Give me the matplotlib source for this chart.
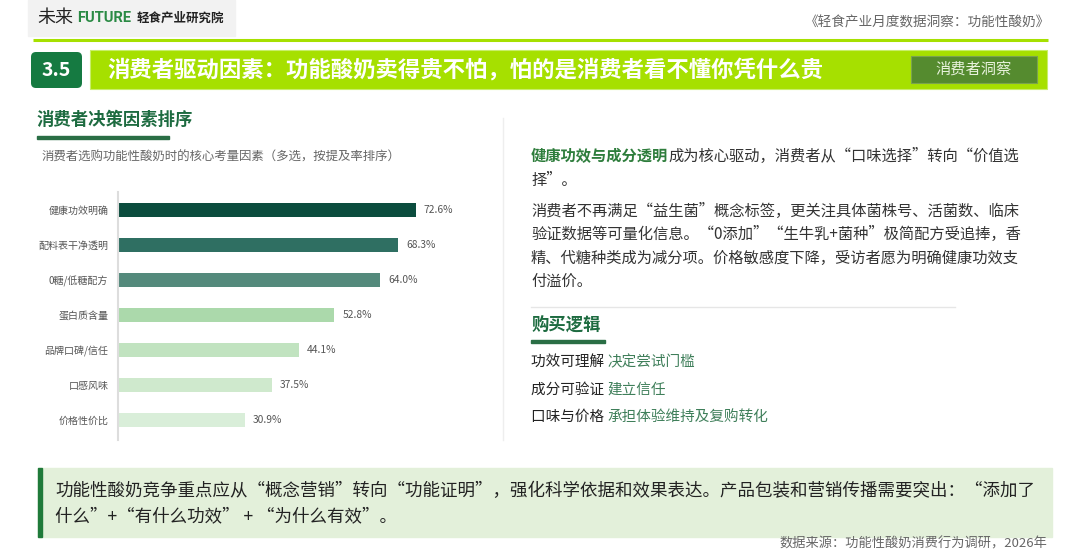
import matplotlib
matplotlib.use("Agg")
import matplotlib.pyplot as plt
from matplotlib.patches import Rectangle, FancyBboxPatch

plt.rcParams['font.family'] = ['Noto Sans CJK SC', 'DejaVu Sans']

categories = ["健康功效明确", "配料表干净透明", "0糖/低糖配方", "蛋白质含量", "品牌口碑/信任", "口感风味", "价格性价比"]
values = [72.6, 68.3, 64.0, 52.8, 44.1, 37.5, 30.9]
bar_colors = ["#0b4d3e", "#2f6f62", "#548a7c", "#abd9ab", "#c1e3c0", "#cfe9cd", "#d9eed9"]

W, H = 1080, 555
fig = plt.figure(figsize=(W / 100, H / 100), dpi=100)
fig.patch.set_facecolor("white")
ax0 = fig.add_axes([0, 0, 1, 1])
ax0.set_xlim(0, W)
ax0.set_ylim(H, 0)
ax0.axis("off")

renderer = fig.canvas.get_renderer()

def text_width(t):
    bb = t.get_window_extent(renderer=renderer)
    return bb.width

def seq_text(x, y, parts, **kw):
    for s, c, extra in parts:
        t = ax0.text(x, y, s, color=c, va="center", ha="left", **kw, **extra)
        x += text_width(t)
    return x

# ---- header logo
ax0.add_patch(Rectangle((28, 0), 207, 36, color="#f2f2f2", zorder=0))
x = seq_text(37, 18, [("未来", "#222222", dict(fontsize=13))])
x = seq_text(x + 4, 18, [("FUTURE", "#2a8a44", dict(fontsize=10.5, fontweight="bold", family=["Roboto", "DejaVu Sans"]))])
seq_text(x + 6, 18, [("轻食产业研究院", "#222222", dict(fontsize=9, fontweight="bold"))])
ax0.text(1050, 22, "《轻食产业月度数据洞察：功能性酸奶》", fontsize=9.8, color="#666666",
         ha="right", va="center", style="italic")
ax0.plot([33, 1048], [39.5, 39.5], color="#a6e000", lw=2.2, solid_capstyle="butt")

# ---- section banner
ax0.add_patch(FancyBboxPatch((31, 52), 51, 36, boxstyle="round,pad=0,rounding_size=5",
                             fc="#157a41", ec="none"))
ax0.text(56.5, 70.5, "3.5", fontsize=14, color="white", fontweight="bold", ha="center", va="center")
ax0.add_patch(Rectangle((90, 50), 957, 39, fc="#a6e000", ec="#c8ee6a", lw=0.8))
ax0.text(107, 70, "消费者驱动因素：功能酸奶卖得贵不怕，怕的是消费者看不懂你凭什么贵",
         fontsize=16.1, color="white", fontweight="bold", ha="left", va="center")
ax0.add_patch(Rectangle((911, 56), 126, 27, fc="#558b2f", ec="#7aa34f", lw=0.8))
ax0.text(974, 69.5, "消费者洞察", fontsize=11, color="#e8f2dc", ha="center", va="center")

# ---- left header
ax0.text(37, 120, "消费者决策因素排序", fontsize=12.5, color="#1d6b40", fontweight="bold",
         ha="left", va="center")
ax0.add_patch(Rectangle((37, 135.5), 132, 3, color="#2a6e45"))
ax0.text(42, 157, "消费者选购功能性酸奶时的核心考量因素（多选，按提及率排序）", fontsize=8.95,
         color="#666666", ha="left", va="center")

# vertical separator
ax0.plot([503, 503], [118, 440], color="#eeeeee", lw=1)

# ---- bar chart
left_px, right_px, top_px, bot_px = 118, 528, 192, 440
ax = fig.add_axes([left_px / W, 1 - bot_px / H, (right_px - left_px) / W, (bot_px - top_px) / H])
ax.set_xlim(0, 100)
n = len(values)
ax.set_ylim(6.57, -0.514)
ys = list(range(n))
ax.barh(ys, values, height=0.4, color=bar_colors, left=0, zorder=2)
for y, v in zip(ys, values):
    ax.text(v + 2, y, f"{v:.1f}%", fontsize=7.4, color="#555555", va="center", ha="left")
ax.set_yticks(ys)
ax.set_yticklabels(categories, fontsize=7.2, color="#555555")
ax.tick_params(axis="y", length=0, pad=7)
ax.set_xticks([])
for s in ["top", "right", "bottom"]:
    ax.spines[s].set_visible(False)
ax.spines["left"].set_color("#dddddd")
ax.spines["left"].set_linewidth(1.5)
ax.patch.set_alpha(0)

# ---- right text
body = "#333333"
green = "#2e7d3c"
fs = 11
seq_text(531, 156, [("健康功效与成分透明", green, dict(fontsize=fs, fontweight="bold")),
                    ("成为核心驱动，消费者从“口味选择”转向“价值选", body, dict(fontsize=fs))])
ax0.text(531, 180, "择”。", fontsize=fs, color=body, va="center")
para = ["消费者不再满足“益生菌”概念标签，更关注具体菌株号、活菌数、临床",
        "验证数据等可量化信息。“0添加”“生牛乳+菌种”极简配方受追捧，香",
        "精、代糖种类成为减分项。价格敏感度下降，受访者愿为明确健康功效支",
        "付溢价。"]
for i, line in enumerate(para):
    ax0.text(531, 211 + i * 23.5, line, fontsize=fs, color=body, va="center")
ax0.plot([531, 955], [307, 307], color="#e6e6e6", lw=1)
ax0.text(531, 326, "购买逻辑", fontsize=12.5, color="#1d6b40", fontweight="bold", va="center")
ax0.add_patch(Rectangle((531, 340), 74, 3, color="#2a6e45"))
logic_a = ["功效可理解", "成分可验证", "口味与价格"]
logic_b = ["决定尝试门槛", "建立信任", "承担体验维持及复购转化"]
for i, (a, b) in enumerate(zip(logic_a, logic_b)):
    seq_text(531, 362 + i * 27.5, [(a + " ", "#222222", dict(fontsize=10.5)),
                                   (b, "#3f7f5a", dict(fontsize=10.5))])

# ---- bottom box
ax0.add_patch(Rectangle((38, 468), 1014, 69, color="#e3f0da", zorder=0))
ax0.add_patch(Rectangle((38, 468), 3.5, 69, color="#1f7a3a", zorder=1))
ax0.text(55, 491, "功能性酸奶竞争重点应从“概念营销”转向“功能证明”，强化科学依据和效果表达。产品包装和营销传播需要突出：“添加了",
         fontsize=12.6, color="#222222", va="center")
ax0.text(55, 516, "什么”+“有什么功效” + “为什么有效”。", fontsize=12.6, color="#222222", va="center")
ax0.text(1047, 544, "数据来源：功能性酸奶消费行为调研，2026年", fontsize=9.5, color="#666666",
         ha="right", va="center")

fig.savefig("out.png", dpi=100, facecolor="white")
